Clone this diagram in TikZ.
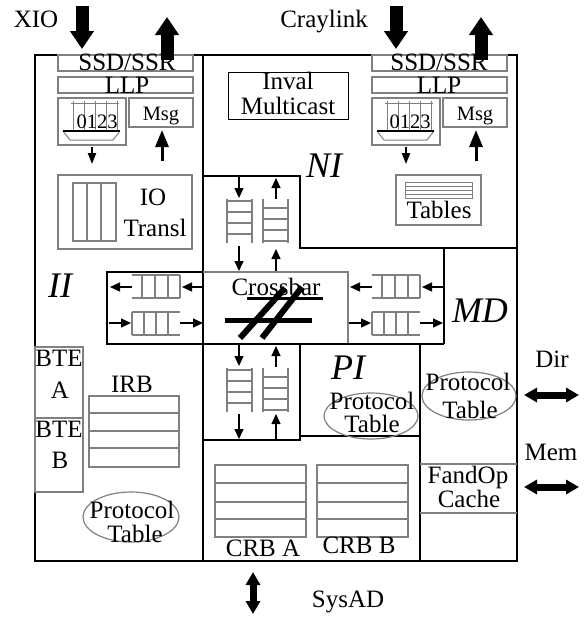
\documentclass[tikz,border=0pt]{standalone}
\usepackage{fontspec}
\setmainfont{Liberation Serif}
\usetikzlibrary{arrows.meta}
\newcommand\fsz[2]{\fontsize{#1}{#2}\selectfont}
\definecolor{gline}{RGB}{128,128,128}
\begin{document}
\begin{tikzpicture}[x=1pt,y=-1pt,
  dk/.style={draw=black,line width=1.7pt},
  gy/.style={draw=gline,line width=1.5pt},
  lbl/.style={inner sep=0pt,anchor=base,font=\fsz{25}{26}},
  sml/.style={inner sep=0pt,anchor=base,font=\fsz{20.5}{22}},
  big/.style={inner sep=0pt,anchor=base,font=\fsz{36}{36}\itshape},
  fat/.style={line width=13pt,-{Triangle[width=23pt,length=18pt]}},
  fatboth/.style={line width=7pt,{Triangle[width=14pt,length=13pt]}-{Triangle[width=14pt,length=13pt]}},
  qa/.style={line width=1.3pt,-{Triangle[width=9pt,length=10pt]}},
  ell/.style={draw=gline,line width=1.2pt}
]
\useasboundingbox (0,0) rectangle (587,624);
\fill[white] (0,0) rectangle (587,624);

% ---------- main frame ----------
\draw[dk] (35,55) rectangle (517,561);
\draw[dk] (203,55) -- (203,561);
\draw[dk] (203,176) -- (300,176) -- (300,248) -- (517,248);
\draw[dk] (107,272) rectangle (203,344);
\draw[gy] (203,272) -- (348,272) -- (348,344);
\draw[dk] (203,344) -- (444,344);
\draw[dk] (444,248) -- (444,344);
\draw[dk] (203,440) -- (300,440) -- (300,436);
\draw[line width=2.4pt] (300,344) rectangle (420,436);
\draw[dk] (420,436) -- (420,561);

% ---------- link interface blocks (II and NI) ----------
\foreach \dx in {0,314} {
  \begin{scope}[shift={(\dx,0)}]
    \draw[gy] (58,55) rectangle (193,71);
    \draw[gy] (58,77) rectangle (193,93);
    \draw[gy] (58,98) rectangle (126,145);
    \draw[gy] (129,98) rectangle (193,127);
    % 0123 buffer icon
    \draw[gy,line width=1pt] (71,103) -- (119,103);
    \foreach \x in {73,84,95,106,117} \draw[gy,line width=1pt] (\x,101) -- (\x,131);
    \draw[gy,line width=1pt] (63,131) -- (70,140) -- (113,140) -- (120,131);
    \draw[black,line width=1.2pt] (63,131) -- (120,131);
    % arrows
    \draw[line width=2pt,-{Triangle[width=8pt,length=11pt]}] (92,147) -- (92,164);
    \draw[line width=3pt,-{Triangle[width=13pt,length=17pt]}] (162,161) -- (162,130);
  \end{scope}
}
\node[lbl] (ssdL) at (127,70) {SSD/SSR};
\node[lbl] (llpL) at (127,93) {LLP};
\node[sml] (bufL) at (97,128) {0123};
\node[sml] (msgL) at (161,120) {Msg};
\node[lbl] (ssdR) at (439,70) {SSD/SSR};
\node[lbl] (llpR) at (439,93) {LLP};
\node[sml] (bufR) at (410,128) {0123};
\node[sml] (msgR) at (475,120) {Msg};

% ---------- external top ports ----------
\node[lbl] (xio) at (36,27) {XIO};
\node[lbl] (cray) at (324,27) {Craylink};
\coordinate (xioIn0) at (82,6);   \coordinate (xioIn1) at (82,49);
\coordinate (xioOut0) at (167,60); \coordinate (xioOut1) at (167,17);
\coordinate (crIn0) at (396,6);   \coordinate (crIn1) at (396,49);
\coordinate (crOut0) at (481,60); \coordinate (crOut1) at (481,17);
\draw[fat] (xioIn0) -- (xioIn1);
\draw[fat] (xioOut0) -- (xioOut1);
\draw[fat] (crIn0) -- (crIn1);
\draw[fat] (crOut0) -- (crOut1);

% ---------- NI ----------
\draw[black,line width=1pt] (228,72) rectangle (348,119);
\node[lbl] (inval) at (288,89) {Inval};
\node[lbl] (mcast) at (288,114) {Multicast};
\node[big] (ni) at (324,177) {NI};
\draw[gy] (396,175) rectangle (481,225);
\draw[gy,line width=1pt] (405,182) rectangle (472,198);
\foreach \y in {186,190,194} \draw[gy,line width=1pt] (405,\y) -- (472,\y);
\node[lbl] (tables) at (439,218) {Tables};

% ---------- II ----------
\draw[gy] (58,175) rectangle (192,249);
\draw[gy] (73,183) rectangle (116,241);
\draw[gy] (87,183) -- (87,241) (101,183) -- (101,241);
\node[lbl] (io) at (153,205) {IO};
\node[lbl] (transl) at (155,236) {Transl};
\node[big] (ii) at (60,297) {II};

\draw[gy] (35,347) rectangle (83,492);
\draw[gy] (35,418) -- (83,418);
\node[lbl] (bteA1) at (59,366) {BTE};
\node[lbl] (bteA2) at (60,398) {A};
\node[lbl] (bteB1) at (59,437) {BTE};
\node[lbl] (bteB2) at (60,468) {B};
\node[lbl] (irb) at (132,392) {IRB};
\draw[gy] (89,396) rectangle (179,467);
\foreach \y in {413,431,448} \draw[gy] (89,\y) -- (179,\y);
\draw[ell] (131,517) ellipse [x radius=48pt, y radius=25pt];
\node[lbl] (ptII1) at (132,518) {Protocol};
\node[lbl] (ptII2) at (135,542) {Table};

% ---------- horizontal queues (II side and MD side) ----------
\foreach \dx in {0,240} {
  \begin{scope}[shift={(\dx,0)}]
    \draw[gy] (132,275) -- (180,275) (132,298) -- (180,298);
    \foreach \x in {142,155,168,180} \draw[gy] (\x,275) -- (\x,298);
    \draw[gy] (132,312) -- (180,312) (132,335) -- (180,335);
    \foreach \x in {132,144,156,168} \draw[gy] (\x,312) -- (\x,335);
    \draw[qa] (132,287) -- (110,287);
    \draw[qa] (203,287) -- (182,287);
    \draw[qa] (109,323) -- (131,323);
    \draw[qa] (180,323) -- (203,323);
  \end{scope}
}

% ---------- vertical queues ----------
\foreach \y in {199,368} {
  \draw[gy] (227,\y) -- (227,\y+44) (252,\y) -- (252,\y+44);
  \foreach \r in {2,13,24,35} \draw[gy] (227,\y+\r) -- (252,\y+\r);
  \draw[gy] (263,\y) -- (263,\y+44) (288,\y) -- (288,\y+44);
  \foreach \r in {9,20,31,42} \draw[gy] (263,\y+\r) -- (288,\y+\r);
}
\draw[qa] (239,176) -- (239,198);
\draw[qa] (239,246) -- (239,271);
\draw[qa] (276,199) -- (276,178);
\draw[qa] (276,271) -- (276,249);
\draw[qa] (239,345) -- (239,366);
\draw[qa] (239,414) -- (239,439);
\draw[qa] (276,367) -- (276,346);
\draw[qa] (276,439) -- (276,414);

% ---------- crossbar ----------
\node[lbl] (xbar) at (276,295) {Crossbar};
\draw[line width=3pt] (247,298) -- (323,298);
\draw[line width=5pt] (225,320) -- (312,320);
\draw[line width=6pt] (240,338) -- (285,288);
\draw[line width=6pt] (262,338) -- (302,287);

% ---------- MD ----------
\node[big] (md) at (480,322) {MD};
\draw[ell] (469,396) ellipse [x radius=47pt, y radius=24pt];
\node[lbl] (ptMD1) at (468,390) {Protocol};
\node[lbl] (ptMD2) at (470,418) {Table};
\draw[gy] (420,464) -- (517,464) (420,513) -- (517,513);
\node[lbl] (fandop) at (468,483) {FandOp};
\node[lbl] (cache) at (469,507) {Cache};

% ---------- PI ----------
\node[big] (pi) at (348,379) {PI};
\draw[ell] (371,416) ellipse [x radius=47pt, y radius=23pt];
\node[lbl] (ptPI1) at (372,409) {Protocol};
\node[lbl] (ptPI2) at (372,432) {Table};

\draw[gy] (215,465) rectangle (306,537);
\foreach \y in {483,502,519} \draw[gy] (215,\y) -- (306,\y);
\draw[gy] (317,465) rectangle (408,537);
\foreach \y in {483,502,519} \draw[gy] (317,\y) -- (408,\y);
\node[lbl] (crbA) at (263,556) {CRB A};
\node[lbl] (crbB) at (359,553) {CRB B};

% ---------- external ports right and bottom ----------
\node[lbl] (dir) at (552,367) {Dir};
\node[lbl] (mem) at (551,460) {Mem};
\coordinate (dir0) at (524,395); \coordinate (dir1) at (579,395);
\coordinate (mem0) at (524,487); \coordinate (mem1) at (579,487);
\draw[fatboth] (dir0) -- (dir1);
\draw[fatboth] (mem0) -- (mem1);
\node[lbl] (sysad) at (348,607) {SysAD};
\coordinate (sys0) at (253,572); \coordinate (sys1) at (253,614);
\draw[fatboth] (sys0) -- (sys1);
\end{tikzpicture}
\end{document}
